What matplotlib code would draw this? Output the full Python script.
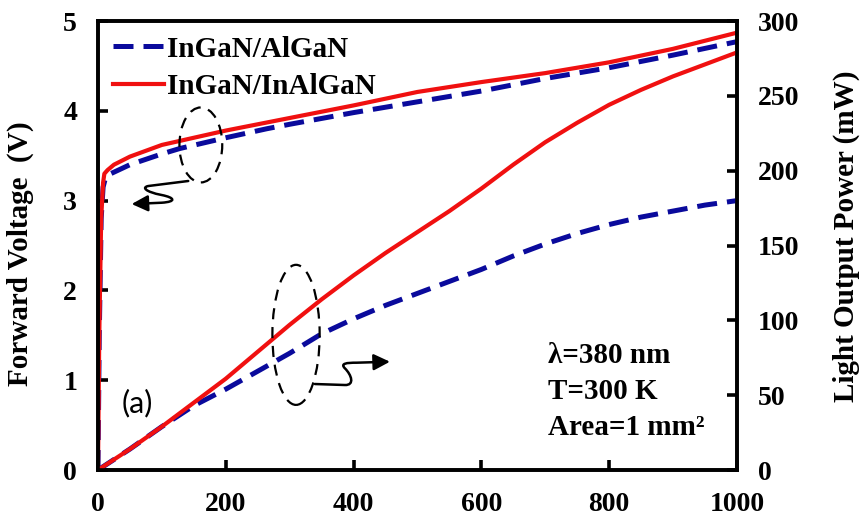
import matplotlib
matplotlib.use("Agg")
import matplotlib.pyplot as plt
from matplotlib.patches import Ellipse, FancyArrowPatch
from matplotlib.path import Path

# Injection current (mA) and forward voltage (V)
current_v_algan = [0, 2, 5, 8, 12, 20, 50, 100, 128, 200, 264, 300, 400, 500, 600, 700, 800, 900, 1000]
voltage_algan = [0, 1.5, 2.8, 3.15, 3.26, 3.30, 3.40, 3.52, 3.58, 3.70, 3.80, 3.85, 3.98, 4.10, 4.22, 4.36, 4.48, 4.62, 4.77]

current_v_inalgan = [0, 2, 5, 8, 10, 15, 25, 50, 100, 150, 200, 300, 400, 500, 600, 700, 800, 900, 1000]
voltage_inalgan = [0, 1.5, 2.8, 3.2, 3.3, 3.34, 3.40, 3.49, 3.62, 3.70, 3.78, 3.92, 4.06, 4.21, 4.32, 4.42, 4.54, 4.69, 4.87]

# Injection current (mA) and light output power (mW)
current_p = [0, 50, 100, 150, 200, 250, 300, 350, 400, 450, 500, 550, 600, 650, 700, 750, 800, 850, 900, 950, 1000]
power_algan = [0, 14, 29, 43, 54, 66, 78, 91, 101, 110, 118, 126, 134, 143, 151, 158, 164, 169, 173, 177, 180]
power_inalgan = [0, 14, 29, 45, 61, 79, 97, 114, 130, 145, 159, 173, 188, 204, 219, 232, 244, 254, 263, 271, 279]

series_labels = ["InGaN/AlGaN", "InGaN/InAlGaN"]
x_ticks = [0, 200, 400, 600, 800, 1000]
v_ticks = [0, 1, 2, 3, 4, 5]
p_ticks = [0, 50, 100, 150, 200, 250, 300]

BLUE = "#0a0a9c"
RED = "#f01010"
SERIF = "Liberation Serif"

plt.rcParams["font.family"] = [SERIF, "DejaVu Sans"]
plt.rcParams["font.weight"] = "bold"

fig = plt.figure(figsize=(8.61, 5.19), dpi=100)
ax = fig.add_axes([0.1138, 0.0944, 0.742, 0.8651])
ax2 = ax.twinx()

dash = (0, (4, 2))
l1, = ax.plot(current_v_algan, voltage_algan, color=BLUE, lw=3.6, ls=dash, label=series_labels[0])
l2, = ax.plot(current_v_inalgan, voltage_inalgan, color=RED, lw=3.0, label=series_labels[1])
ax2.plot(current_p, power_algan, color=BLUE, lw=3.6, ls=dash)
ax2.plot(current_p, power_inalgan, color=RED, lw=3.0)

ax.set_xlim(0, 1000)
ax.set_ylim(0, 5)
ax2.set_ylim(0, 300)
ax.set_xticks(x_ticks)
ax.set_yticks(v_ticks)
ax2.set_yticks(p_ticks)

for a in (ax, ax2):
    for s in a.spines.values():
        s.set_linewidth(2.6)
ax.tick_params(axis="both", direction="in", length=7, width=2.6, labelsize=20, pad=15)
ax.tick_params(axis="x", pad=16)
ax2.tick_params(axis="y", direction="in", length=7, width=2.6, labelsize=20, pad=15)
for lab in ax.get_xticklabels() + ax.get_yticklabels() + ax2.get_yticklabels():
    lab.set_fontweight("bold")

ax.set_ylabel("Forward Voltage  (V)", fontsize=21, fontweight="bold")
ax.yaxis.set_label_coords(-0.100, 0.481)
ax2.set_ylabel("Light Output Power (mW)", fontsize=21, fontweight="bold", rotation=90)
ax2.yaxis.set_label_coords(1.150, 0.521)

leg = ax.legend(handles=[l1, l2], loc="upper left", bbox_to_anchor=(0.0, 1.0),
                frameon=False, prop={"family": SERIF, "weight": "bold", "size": 21},
                handlelength=1.75, handletextpad=0.12, labelspacing=0.36,
                borderpad=0.3, borderaxespad=0.2)

# Dashed ellipses marking each curve group
for cx, cy, w, h in [(0.161, 0.724, 0.067, 0.167), (0.310, 0.301, 0.074, 0.312)]:
    ax2.add_patch(Ellipse((cx, cy), w, h, transform=ax.transAxes, fill=False,
                          ec="black", lw=1.6, ls=(0, (5, 3.5)), zorder=5))

# Squiggly arrows pointing to the relevant axis
codes = [Path.MOVETO, Path.LINETO, Path.CURVE4, Path.CURVE4, Path.CURVE4,
         Path.CURVE4, Path.CURVE4, Path.CURVE4, Path.LINETO]
left_arrow = [(0.1413, 0.6437), (0.0787, 0.6325), (0.0684, 0.6296), (0.0736, 0.6198),
              (0.0997, 0.6125), (0.1205, 0.6065), (0.1232, 0.5976), (0.0997, 0.5953),
              (0.0527, 0.5924)]
right_arrow = [(0.3396, 0.1915), (0.3865, 0.1893), (0.4022, 0.1886), (0.3970, 0.2116),
               (0.3865, 0.2265), (0.3787, 0.2376), (0.3892, 0.2390), (0.4049, 0.2390),
               (0.4570, 0.2412)]
for pts in (left_arrow, right_arrow):
    arr = FancyArrowPatch(path=Path(pts, codes), arrowstyle="-|>,head_length=0.7,head_width=0.35",
                          mutation_scale=14, lw=1.8, color="black",
                          transform=ax.transAxes, zorder=6)
    ax2.add_patch(arr)

ax2.text(0.061, 0.149, "(a)", transform=ax.transAxes, ha="center", va="center",
         fontsize=22, fontweight="normal", family=["Lato", "DejaVu Sans"])

for ty, txt in [(0.256, "λ=380 nm"), (0.174, "T=300 K"), (0.094, "Area=1 mm²")]:
    ax2.text(0.704, ty, txt, transform=ax.transAxes, ha="left", va="center",
             fontsize=21, fontweight="bold")

fig.savefig("out.png", dpi=100)
